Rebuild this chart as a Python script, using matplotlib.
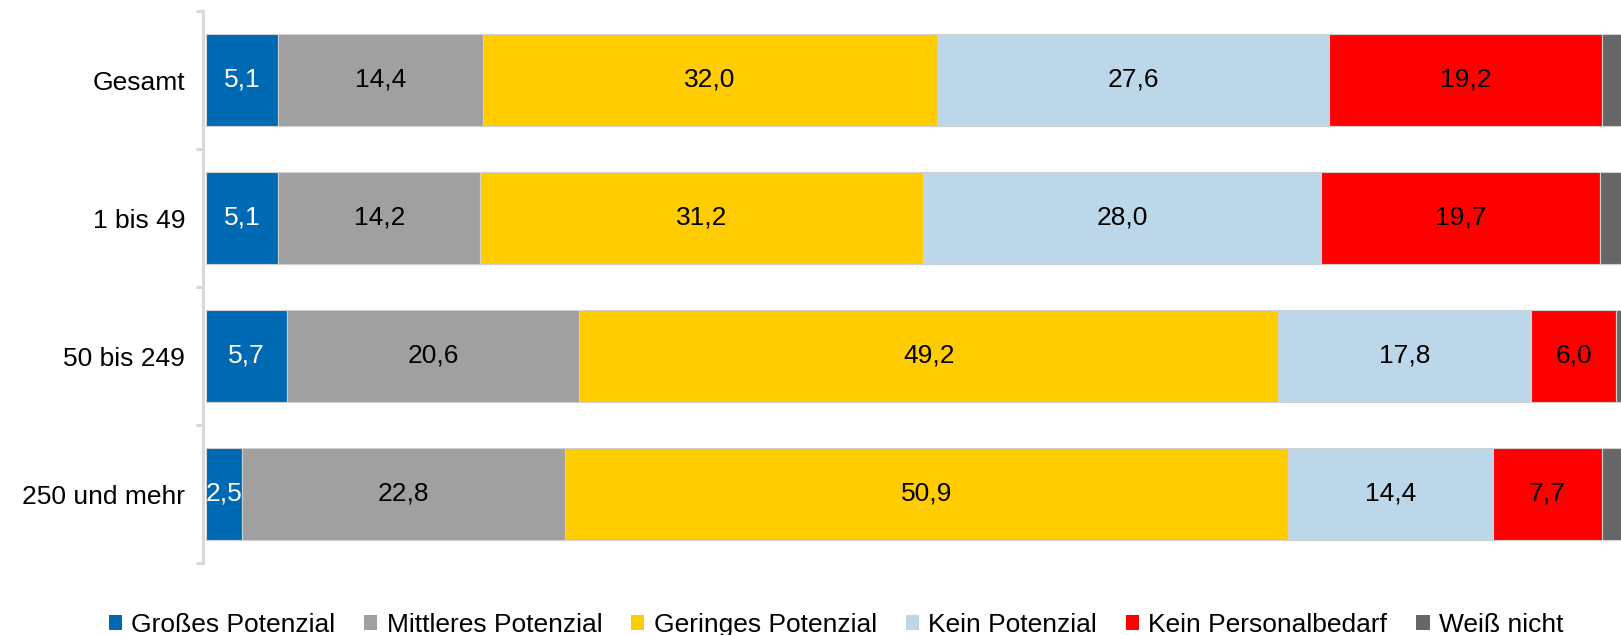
import matplotlib
matplotlib.use("Agg")
import matplotlib.pyplot as plt
import numpy as np

plt.rcParams['font.family'] = ['Liberation Sans', 'DejaVu Sans']

categories = ["Gesamt", "1 bis 49", "50 bis 249", "250 und mehr"]
series_names = ["Großes Potenzial", "Mittleres Potenzial", "Geringes Potenzial",
                "Kein Potenzial", "Kein Personalbedarf", "Weiß nicht"]
gross = [5.1, 5.1, 5.7, 2.5]
mittel = [14.4, 14.2, 20.6, 22.8]
gering = [32.0, 31.2, 49.2, 50.9]
kein = [27.6, 28.0, 17.8, 14.4]
kein_bedarf = [19.2, 19.7, 6.0, 7.7]
weiss_nicht = [1.7, 1.8, 0.7, 1.7]
series = [gross, mittel, gering, kein, kein_bedarf, weiss_nicht]
colors = ["#0069b4", "#a0a0a0", "#ffcc00", "#bdd7ea", "#ff0000", "#666666"]
label_colors = ["white", "black", "black", "black", "black", None]

fig = plt.figure(figsize=(16.21, 6.35), dpi=100)
ax = fig.add_axes([206/1621, 1 - 563/635, 1420/1621, 552/635])

y = np.arange(len(categories))
left = np.zeros(len(categories))
for vals, col, lc, name in zip(series, colors, label_colors, series_names):
    vals = np.array(vals)
    ax.barh(y, vals, left=left, height=0.66, color=col, edgecolor="#d0d0d0",
            linewidth=0.8, label=name)
    if lc is not None:
        for yi, (l, v) in enumerate(zip(left, vals)):
            ax.text(l + v / 2, yi, f"{v:.1f}".replace(".", ","), ha="center",
                    va="center", color=lc, fontsize=19)
    left += vals

ax.set_xlim(0, 100)
ax.set_ylim(len(categories) - 0.5, -0.5)
ax.set_yticks(y)
ax.set_yticklabels(categories)
ax.set_yticks(np.arange(-0.5, len(categories), 1.0), minor=True)
ax.tick_params(axis="y", which="major", length=0, pad=13, labelsize=19)
ax.tick_params(axis="y", which="minor", length=5, width=2.2, color="#d9d9d9")
ax.set_xticks([])
for s in ["top", "right", "bottom"]:
    ax.spines[s].set_visible(False)
ax.spines["left"].set_color("#d9d9d9")
ax.spines["left"].set_linewidth(2.2)
ax.spines["left"].set_position(("outward", 2))

leg = fig.legend(loc="center", bbox_to_anchor=(836/1621, 1 - 625/635), ncol=6,
                 frameon=False, fontsize=19, handlelength=0.5, handleheight=0.5,
                 handletextpad=0.35, columnspacing=1.1, borderaxespad=0, borderpad=0)
for h in leg.legend_handles:
    h.set_edgecolor("none")

fig.savefig("out.png", dpi=100)
